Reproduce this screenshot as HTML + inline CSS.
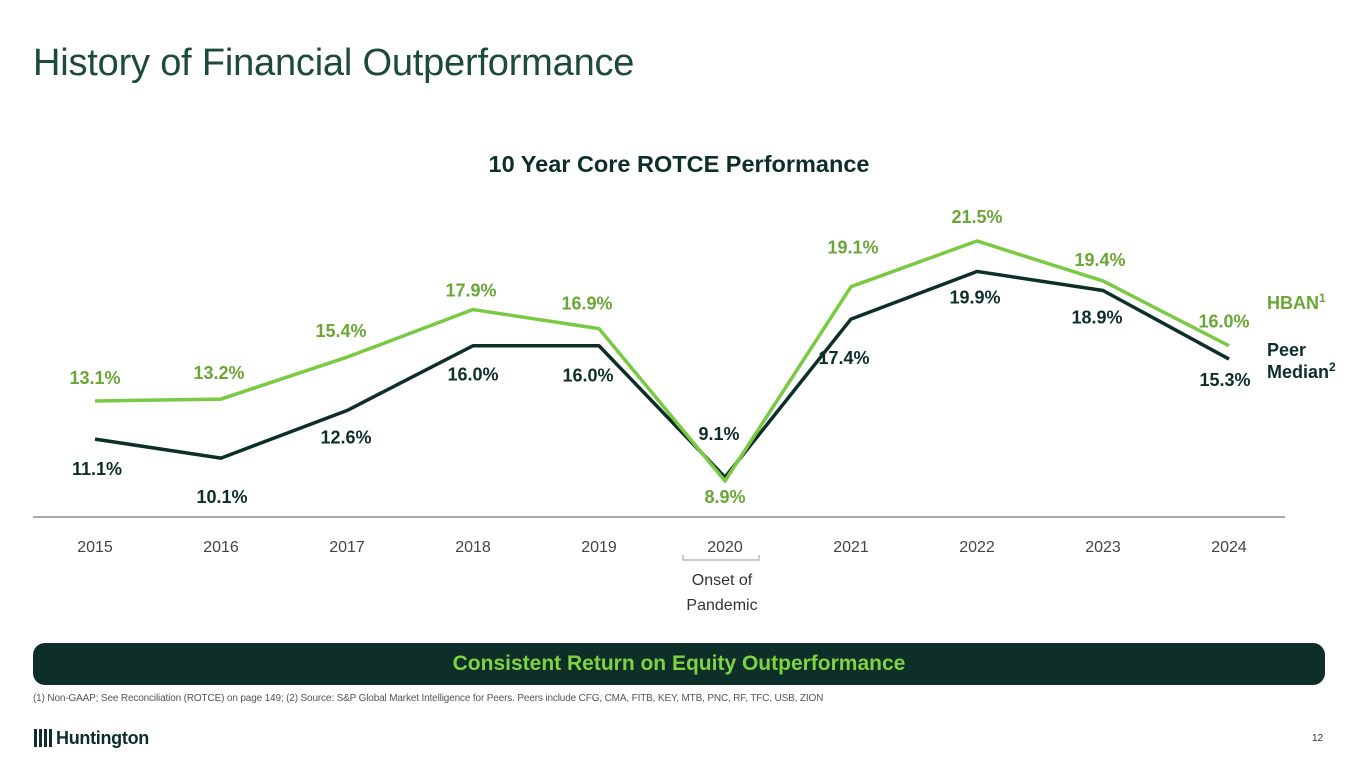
<!DOCTYPE html>
<html><head><meta charset="utf-8"><style>
body{margin:0;width:1365px;height:768px;background:#fff;font-family:"Liberation Sans",sans-serif;overflow:hidden;position:relative}
.abs{position:absolute}
</style></head><body>
<div class="abs" style="left:33px;top:42px;font-size:38px;color:#1d4a3d;letter-spacing:-0.2px">History of Financial Outperformance</div>
<svg class="abs" style="left:0;top:0" width="1365" height="640">
<text x="679" y="172" text-anchor="middle" font-size="23.5" font-weight="bold" fill="#0e2e29">10 Year Core ROTCE Performance</text>
<line x1="33" y1="517" x2="1285" y2="517" stroke="#8c8c8c" stroke-width="1.5"/>
<g id="ticks"></g>
<g id="series"></g>
<path d="M683 555 v5 h76 v-5" fill="none" stroke="#999" stroke-width="1"/>
<text x="722" y="585" text-anchor="middle" font-size="16" fill="#333">Onset of</text>
<text x="722" y="610" text-anchor="middle" font-size="16" fill="#333">Pandemic</text>
<text x="1267" y="309" font-size="18" font-weight="bold" fill="#6aa636">HBAN<tspan font-size="12" dy="-7">1</tspan></text>
<text x="1267" y="356" font-size="18" font-weight="bold" fill="#0e2e29">Peer</text>
<text x="1267" y="378" font-size="18" font-weight="bold" fill="#0e2e29">Median<tspan font-size="12" dy="-7">2</tspan></text>
</svg>
<div class="abs" style="left:33px;top:643px;width:1292px;height:42px;background:#0e2e29;border-radius:12px;color:#7ed33f;font-weight:bold;font-size:21px;text-align:center;line-height:42px">Consistent Return on Equity Outperformance</div>
<div class="abs" style="left:33px;top:693px;font-size:10px;color:#555;letter-spacing:-0.15px">(1) Non-GAAP; See Reconciliation (ROTCE) on page 149; (2) Source: S&amp;P Global Market Intelligence for Peers. Peers include CFG, CMA, FITB, KEY, MTB, PNC, RF, TFC, USB, ZION</div>
<div class="abs" style="left:34px;top:728px;font-size:18px;font-weight:bold;color:#0e2e29;letter-spacing:-0.3px"><span style="display:inline-block;width:18px;height:18px;vertical-align:-3px;background:repeating-linear-gradient(90deg,#0e2e29 0 3px,transparent 3px 5px);margin-right:4px"></span>Huntington</div>
<div class="abs" style="left:1312px;top:733px;font-size:10px;color:#333">12</div>
<script>
const years=['2015','2016','2017','2018','2019','2020','2021','2022','2023','2024'];
const hban=[13.1,13.2,15.4,17.9,16.9,8.9,19.1,21.5,19.4,16.0];
const peer=[11.1,10.1,12.6,16.0,16.0,9.1,17.4,19.9,18.9,15.3];
const hbanDy=[-23,-26,-26,-19,-25,16,-39,-24,-21,-24];
const hbanDx=[0,-2,-6,-2,-12,0,2,0,-3,-5];
const peerDy=[30,39,27,29,30,-43,39,26,27,21];
const peerDx=[2,1,-1,0,-11,-6,-7,-2,-6,-4];
const NS='http://www.w3.org/2000/svg';
const xS=i=>95+126*i;
const yS=v=>481-(v-8.9)*19.05;
const ticks=document.getElementById('ticks'),ser=document.getElementById('series');
function mk(t,a,p){const e=document.createElementNS(NS,t);for(const k in a)e.setAttribute(k,a[k]);p.appendChild(e);return e;}
years.forEach((y,i)=>{const t=mk('text',{x:xS(i),y:552,'text-anchor':'middle','font-size':16,fill:'#444'},ticks);t.textContent=y;

});
function line(vals,col,name){const p=mk('polyline',{points:vals.map((v,i)=>xS(i)+','+yS(v)).join(' '),fill:'none',stroke:col,'stroke-width':3.5,'stroke-linejoin':'round'},ser);

}
line(peer,'#0e2e29','peer-median-line');
line(hban,'#7ac943','hban-line');
function labels(vals,dx,dy,col,name){vals.forEach((v,i)=>{const t=mk('text',{x:xS(i)+dx[i],y:yS(v)+dy[i]+6,'text-anchor':'middle','font-size':18,'font-weight':'bold',fill:col},ser);t.textContent=v.toFixed(1)+'%';

});}
labels(hban,hbanDx,hbanDy,'#6aa636','hban-label');
labels(peer,peerDx,peerDy,'#0e2e29','peer-label');
</script>
</body></html>
